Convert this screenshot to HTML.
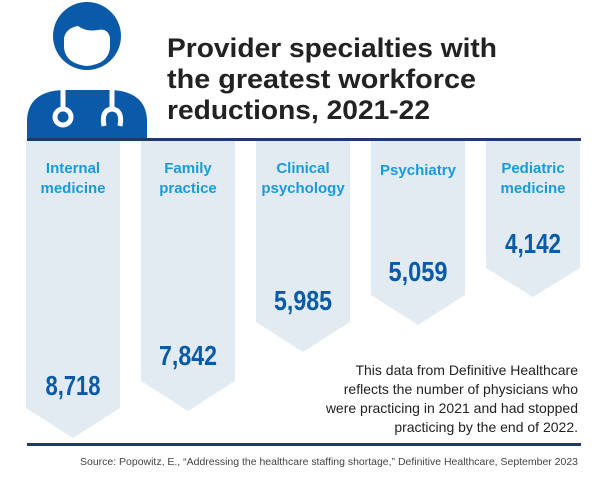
<!DOCTYPE html>
<html><head><meta charset="utf-8"><style>
html,body{margin:0;padding:0;background:#fff;width:608px;height:482px;overflow:hidden}
svg{display:block}
</style></head><body>
<svg width="608" height="482" viewBox="0 0 608 482" xmlns="http://www.w3.org/2000/svg">
<circle cx="87" cy="36" r="34" fill="#0a5aa8"/>
<path d="M64 38 Q66 28 78 26 Q86 32 98 30 Q108 28 110 38 L110 48 Q108 64 87 66 Q66 64 64 48 Z" fill="#fff"/>
<path d="M27 138 L27 120 Q28 92 62 90 L112 90 Q146 92 147 120 L147 138 Z" fill="#0a5aa8"/>
<g fill="none" stroke="#fff" stroke-width="5">
<path d="M63 90 L63 108"/>
<circle cx="63" cy="117" r="8"/>
<path d="M112 90 L112 108 M104 126 Q101 110 112 109 Q123 110 120 126"/>
</g>
<g font-family="Liberation Sans, sans-serif" font-weight="bold" font-size="27" fill="#222" lengthAdjust="spacingAndGlyphs">
<text x="167" y="57" textLength="330" lengthAdjust="spacingAndGlyphs">Provider specialties with</text>
<text x="167" y="88" textLength="309" lengthAdjust="spacingAndGlyphs">the greatest workforce</text>
<text x="167" y="119" textLength="263" lengthAdjust="spacingAndGlyphs">reductions, 2021-22</text>
</g>
<g fill="#e2ebf1">
<path d="M26 140 H120 V408 L73 438 L26 408 Z"/>
<path d="M141 140 H235 V381 L188 411 L141 381 Z"/>
<path d="M256 140 H350 V322 L303 352 L256 322 Z"/>
<path d="M371 140 H465 V295 L418 325 L371 295 Z"/>
<path d="M486 140 H580 V268 L533 297 L486 268 Z"/>
</g>
<rect x="27" y="138" width="554" height="3" fill="#1e3a6a"/>
<rect x="27" y="443" width="554" height="3" fill="#1e3a6a"/>
<g font-family="Liberation Sans, sans-serif" font-weight="bold" font-size="15" fill="#1a9bd7" text-anchor="middle">
<text x="73" y="173">Internal</text><text x="73" y="193">medicine</text>
<text x="188" y="173">Family</text><text x="188" y="193">practice</text>
<text x="303" y="173">Clinical</text><text x="303" y="193">psychology</text>
<text x="418" y="175">Psychiatry</text>
<text x="533" y="173">Pediatric</text><text x="533" y="193">medicine</text>
</g>
<g font-family="Liberation Sans Narrow, Liberation Sans, sans-serif" font-weight="bold" font-size="28" fill="#0a5aa8" text-anchor="middle">
<text x="73" y="395" textLength="55" lengthAdjust="spacingAndGlyphs">8,718</text>
<text x="188" y="365" textLength="58" lengthAdjust="spacingAndGlyphs">7,842</text>
<text x="303" y="310" textLength="58" lengthAdjust="spacingAndGlyphs">5,985</text>
<text x="418" y="281" textLength="59" lengthAdjust="spacingAndGlyphs">5,059</text>
<text x="533" y="253" textLength="56" lengthAdjust="spacingAndGlyphs">4,142</text>
</g>
<g font-family="Liberation Sans, sans-serif" font-size="14" fill="#222" text-anchor="end">
<text x="578" y="375">This data from Definitive Healthcare</text>
<text x="578" y="394">reflects the number of physicians who</text>
<text x="578" y="413">were practicing in 2021 and had stopped</text>
<text x="578" y="432">practicing by the end of 2022.</text>
</g>
<text x="80" y="465" font-family="Liberation Sans, sans-serif" font-size="10" fill="#444" textLength="498" lengthAdjust="spacingAndGlyphs">Source: Popowitz, E., “Addressing the healthcare staffing shortage,” Definitive Healthcare, September 2023</text>
</svg>
</body></html>
